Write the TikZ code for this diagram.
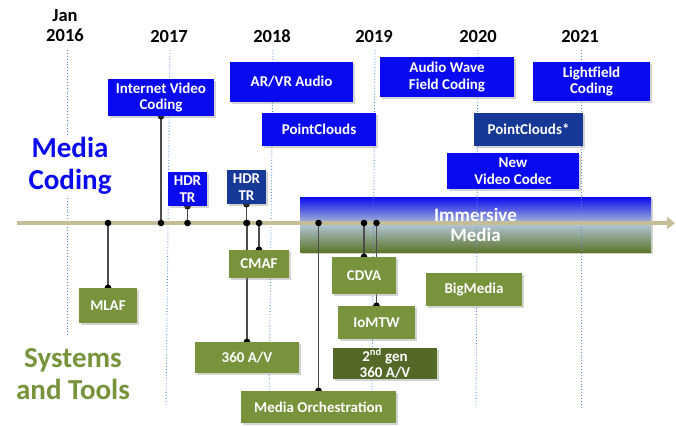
\documentclass[tikz,border=0pt]{standalone}
\usepackage{fontspec}
\setmainfont{Carlito}
\usetikzlibrary{arrows.meta,shadows}
\definecolor{mpegblue}{RGB}{10,10,240}
\definecolor{mpegnavy}{RGB}{22,56,150}
\definecolor{mpeggreen}{RGB}{119,147,60}
\definecolor{mpegolive}{RGB}{84,104,40}
\definecolor{axistan}{RGB}{196,189,151}
\definecolor{gridblue}{RGB}{90,140,210}
\definecolor{immgray}{RGB}{178,196,212}
\definecolor{immgreen}{RGB}{92,118,44}
\newcommand{\mpegboxfont}{\fontsize{15}{16.5}\selectfont\bfseries}
\tikzstyle{codingbox} = [rectangle, fill=mpegblue, text=white, font=\mpegboxfont, align=center, inner sep=0pt, drop shadow={shadow xshift=2pt, shadow yshift=-2pt, opacity=0.35}]
\tikzstyle{codingdark} = [codingbox, fill=mpegnavy]
\tikzstyle{sysbox} = [codingbox, fill=mpeggreen]
\tikzstyle{sysdark} = [codingbox, fill=mpegolive]
\tikzstyle{yearlabel} = [font=\fontsize{18.5}{20}\selectfont\bfseries, inner sep=0pt]
\tikzstyle{sidetitle} = [font=\fontsize{29}{31.5}\selectfont\bfseries, align=center, fill=white, inner sep=3pt]
\tikzstyle{yearline} = [draw=gridblue, dotted, line width=0.9pt]
\tikzstyle{timeline} = [draw=axistan, line width=4pt, -{Triangle[length=8pt,width=12pt]}]
\tikzstyle{link} = [draw=black!70, line width=1.4pt, {Circle[length=6.5pt,black]}-{Circle[length=6.5pt,black]}, shorten <=-3.25pt, shorten >=-3.25pt]
\pgfdeclarelayer{back}
\pgfdeclarelayer{wires}
\pgfsetlayers{back,wires,main}

\begin{document}
\begin{tikzpicture}[x=1pt,y=-1pt]
\useasboundingbox (0,0) rectangle (676,425);

% years
\node (jan) [yearlabel, align=center] at (65,26) {Jan\\2016};
\foreach \yr/\xpos in {2017/169,2018/272,2019/374,2020/478,2021/580}
  \node (y\yr) [yearlabel] at (\xpos,36) {\yr};

% side titles
\node (mcoding) [sidetitle, text=mpegblue] at (70,166) {Media\\Coding};
\node (systools) [sidetitle, text=mpeggreen] at (73,374) {Systems\\and Tools};

% media coding
\node (ivc) [codingbox, minimum width=106, minimum height=37] at (161,97.5) {Internet Video\\Coding};
\node (arvr) [codingbox, minimum width=123, minimum height=40] at (291.5,82) {AR/VR Audio};
\node (pcl) [codingbox, minimum width=114, minimum height=33] at (319,129.5) {PointClouds};
\node (hdra) [codingbox, minimum width=39, minimum height=34] at (187.5,189) {HDR\\TR};
\node (hdrb) [codingdark, minimum width=39, minimum height=34] at (246.5,187) {HDR\\TR};
\node (awfc) [codingbox, minimum width=134, minimum height=40] at (447,77) {Audio Wave\\Field Coding};
\node (lfc) [codingbox, minimum width=117, minimum height=39] at (591.5,81.5) {Lightfield\\Coding};
\node (pcls) [codingdark, minimum width=109, minimum height=33] at (528.5,129.5) {PointClouds*};
\node (nvc) [codingbox, minimum width=132, minimum height=36] at (513,171) {New\\Video Codec};

% systems and tools
\node (mlaf) [sysbox, minimum width=58, minimum height=35] at (108,305.5) {MLAF};
\node (cmaf) [sysbox, minimum width=60, minimum height=28] at (259,264) {CMAF};
\node (av) [sysbox, minimum width=104, minimum height=31] at (247,357.5) {360 A/V};
\node (orch) [sysbox, minimum width=155, minimum height=32] at (318.5,407) {Media Orchestration};
\node (cdva) [sysbox, minimum width=64, minimum height=37] at (364,275.5) {CDVA};
\node (iomtw) [sysbox, minimum width=77, minimum height=33] at (376.5,322.5) {IoMTW};
\node (avgen) [sysdark, minimum width=104, minimum height=31] at (385,363.5) {2\textsuperscript{nd} gen\\360 A/V};
\node (bigm) [sysbox, minimum width=96, minimum height=33] at (474,289.5) {BigMedia};

\begin{pgfonlayer}{back}
  \node (imm) [rectangle, minimum width=351, minimum height=55, top color=mpegblue, bottom color=immgreen, middle color=immgray, text=white, font=\fontsize{19}{20}\selectfont\bfseries, align=center, drop shadow={shadow xshift=2pt, shadow yshift=-2pt, opacity=0.35}] at (475.5,224.5) {Immersive\\Media};
  \foreach \xt/\xb/\yb in {67/67/337,170/166/407,273/269/407,375/372/407,478/476/407,581/581/407}
    \draw [yearline] (\xt,50) -- (\xb,\yb);
\end{pgfonlayer}

\begin{pgfonlayer}{wires}
  \coordinate (axisL) at (17,223);
  \coordinate (axisR) at (675,223);
  \draw [timeline] (axisL) -- (axisR);
  \foreach \n/\a in {mlaf/north,ivc/south,hdra/south,hdrb/south,av/north,cmaf/north,orch/north,cdva/north,iomtw/north}
    \draw [link] (\n.\a) -- (\n.\a |- axisL);
\end{pgfonlayer}
\end{tikzpicture}
\end{document}
